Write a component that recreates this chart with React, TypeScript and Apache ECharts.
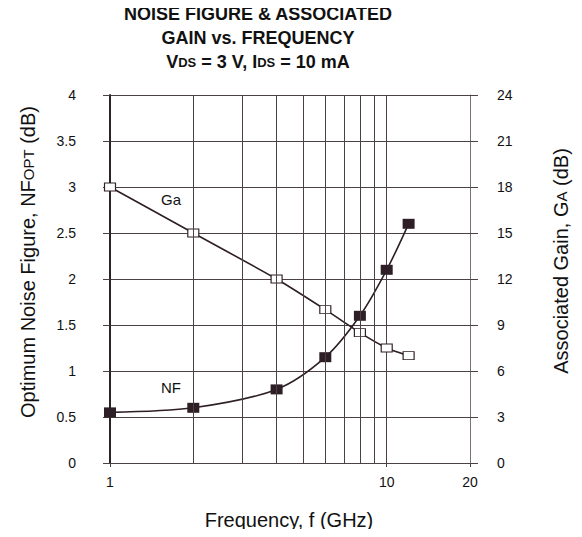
import React, { useEffect, useRef } from "react";
import * as echarts from "echarts";

const frequencies = [1, 2, 4, 6, 8, 10, 12];
const gaValues = [18, 15, 12, 10, 8.5, 7.5, 7];
const nfValues = [0.55, 0.6, 0.8, 1.15, 1.6, 2.1, 2.6];
const minorGridFreqs = [2, 3, 4, 5, 6, 7, 8, 9];

const FONT = "'Liberation Sans', Arial, Helvetica, sans-serif";
const INK = "#2e1f26";
const GRID = "#4a4045";

export default function App() {
  const ref = useRef<HTMLDivElement>(null);
  useEffect(() => {
    if (!ref.current) return;
    const chart = echarts.init(ref.current, null, { renderer: "svg" });
    const gaData = frequencies.map((f, i) => [f, gaValues[i]]);
    const nfData = frequencies.map((f, i) => [f, nfValues[i]]);
    chart.setOption({
      animation: false,
      backgroundColor: "#ffffff",
      textStyle: { fontFamily: FONT },
      grid: { left: 110, right: 112, top: 95, bottom: 74, containLabel: false },
      xAxis: {
        type: "log",
        logBase: 10,
        min: 1,
        max: 20,
        axisLine: { show: true, lineStyle: { color: GRID, width: 1 } },
        axisTick: { show: true, inside: false, length: 4, lineStyle: { color: GRID } },
        axisLabel: { color: "#111", fontSize: 14, margin: 12, fontFamily: FONT },
        splitLine: { show: true, lineStyle: { color: GRID, width: 1 } },
        minorTick: { show: false },
      },
      yAxis: [
        {
          type: "value",
          min: 0,
          max: 4,
          interval: 0.5,
          position: "left",
          axisLine: { show: true, lineStyle: { color: "#2a2228", width: 2 } },
          axisTick: { show: true, inside: false, length: 7, lineStyle: { color: GRID } },
          axisLabel: { color: "#111", fontSize: 14, margin: 34, fontFamily: FONT },
          splitLine: { show: true, lineStyle: { color: GRID, width: 1 } },
        },
        {
          type: "value",
          min: 0,
          max: 24,
          interval: 3,
          position: "right",
          axisLine: { show: true, lineStyle: { color: "#7a7075", width: 1 } },
          axisTick: { show: true, inside: false, length: 8, lineStyle: { color: GRID } },
          axisLabel: { color: "#111", fontSize: 14, margin: 27, fontFamily: FONT },
          splitLine: { show: false },
        },
      ],
      series: [
        {
          type: "line",
          data: [],
          z: 1,
          silent: true,
          markLine: {
            silent: true,
            symbol: "none",
            animation: false,
            label: { show: false },
            lineStyle: { color: GRID, width: 1, type: "solid" },
            data: minorGridFreqs.map((v) => ({ xAxis: v })),
          },
        },
        {
          name: "Ga",
          type: "line",
          yAxisIndex: 1,
          data: gaData,
          smooth: 0.2,
          symbol: "rect",
          symbolSize: [11, 8],
          lineStyle: { color: INK, width: 1.6 },
          itemStyle: { color: "#ffffff", borderColor: INK, borderWidth: 1 },
          z: 3,
        },
        {
          name: "NF",
          type: "line",
          yAxisIndex: 0,
          data: nfData,
          smooth: 0.3,
          symbol: "rect",
          symbolSize: [12, 10],
          lineStyle: { color: INK, width: 1.6 },
          itemStyle: { color: INK },
          z: 4,
        },
      ],
      graphic: [
        {
          type: "text",
          x: 258,
          y: 2,
          style: {
            text: "NOISE FIGURE & ASSOCIATED\nGAIN vs. FREQUENCY\nV{s|DS} = 3 V, I{s|DS} = 10 mA",
            fontFamily: FONT,
            fontSize: 18,
            fontWeight: "bold",
            lineHeight: 24,
            fill: "#111",
            align: "center",
            verticalAlign: "top",
            rich: {
              s: { fontSize: 13, fontWeight: "bold", fontFamily: FONT, lineHeight: 24, verticalAlign: "middle", fill: "#111" },
            },
          },
        },
        {
          type: "text",
          x: 28,
          y: 262,
          rotation: Math.PI / 2,
          style: {
            text: "Optimum Noise Figure, NF{s|OPT} (dB)",
            fontFamily: FONT,
            fontSize: 20,
            lineHeight: 24,
            fill: "#111",
            align: "center",
            verticalAlign: "middle",
            rich: {
              s: { fontSize: 15, fontFamily: FONT, lineHeight: 24, verticalAlign: "middle", fill: "#111" },
            },
          },
        },
        {
          type: "text",
          x: 561,
          y: 261,
          rotation: Math.PI / 2,
          style: {
            text: "Associated Gain, G{s|A} (dB)",
            fontFamily: FONT,
            fontSize: 20,
            lineHeight: 24,
            fill: "#111",
            align: "center",
            verticalAlign: "middle",
            rich: {
              s: { fontSize: 15, fontFamily: FONT, lineHeight: 24, verticalAlign: "middle", fill: "#111" },
            },
          },
        },
        {
          type: "text",
          x: 289,
          y: 520,
          style: {
            text: "Frequency, f (GHz)",
            fontFamily: FONT,
            fontSize: 20,
            fill: "#111",
            align: "center",
            verticalAlign: "middle",
          },
        },
        {
          type: "text",
          x: 171,
          y: 199,
          style: { text: "Ga", fontFamily: FONT, fontSize: 15, fill: "#111", align: "center", verticalAlign: "middle" },
        },
        {
          type: "text",
          x: 171,
          y: 387,
          style: { text: "NF", fontFamily: FONT, fontSize: 15, fill: "#111", align: "center", verticalAlign: "middle" },
        },
      ],
    });
    return () => chart.dispose();
  }, []);
  return <div ref={ref} style={{ width: 582, height: 537, margin: -8 }} />;
}
